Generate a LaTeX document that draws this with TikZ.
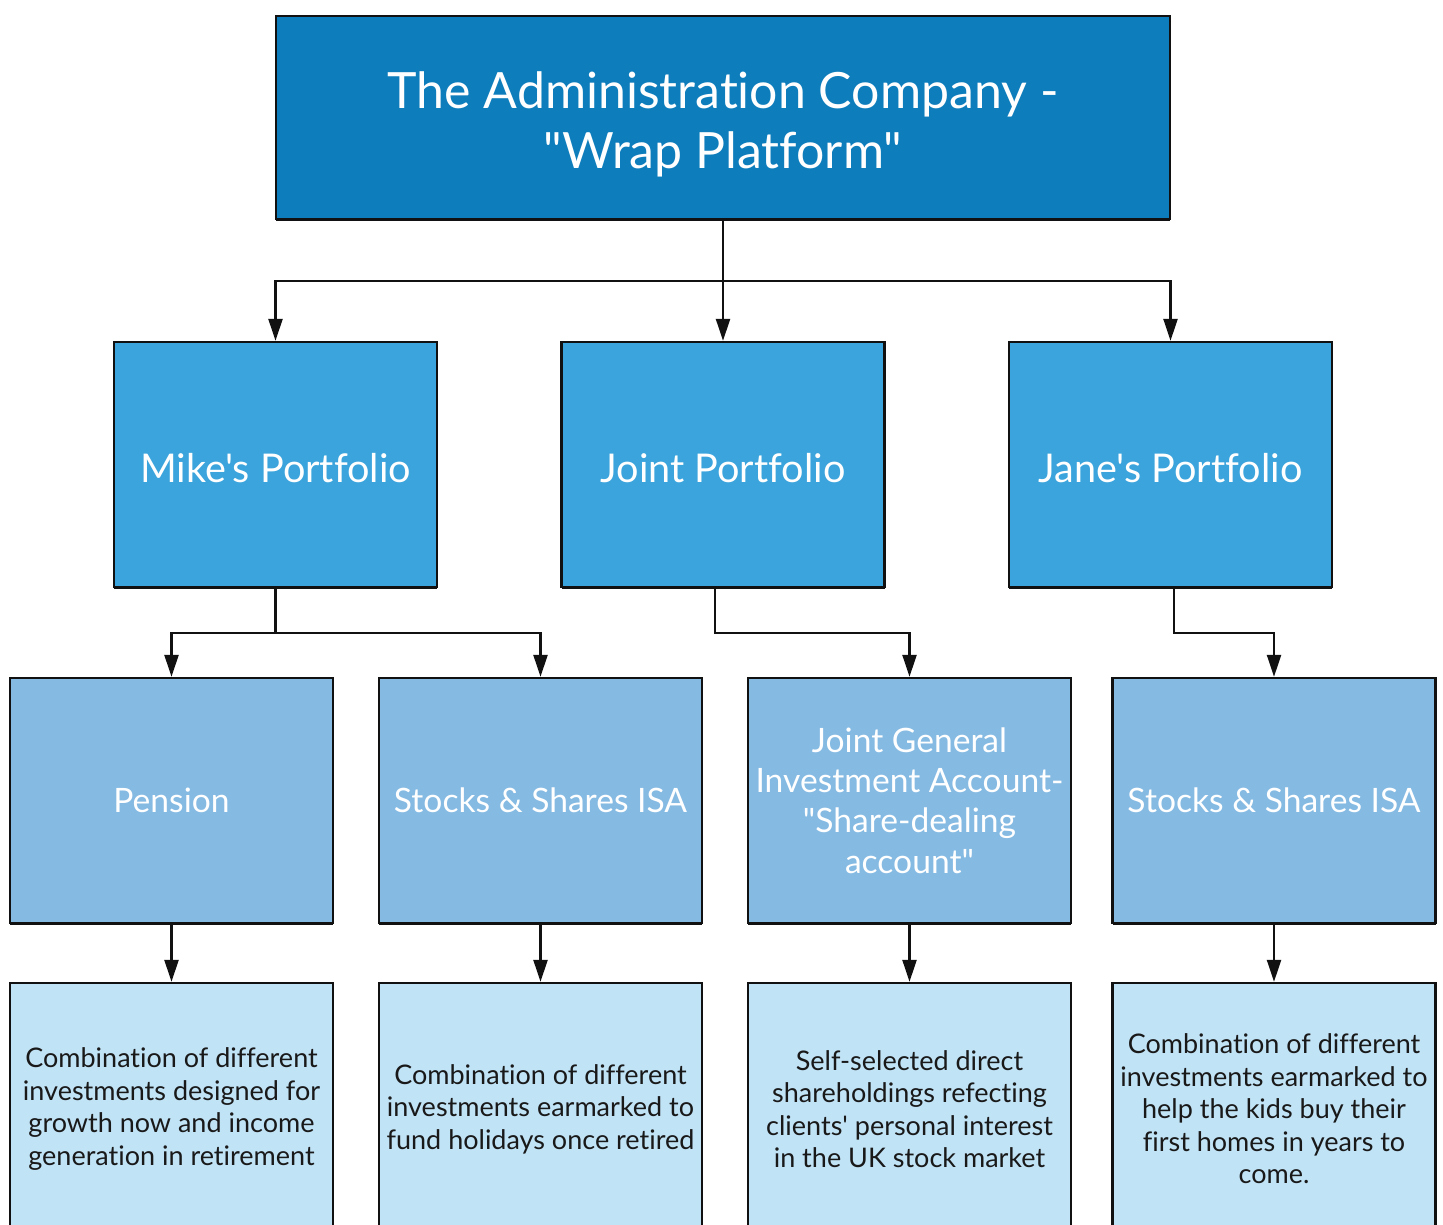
\documentclass[tikz,border=0pt]{standalone}
\usepackage{fontspec}
\setmainfont{Lato}[Ligatures={TeXOff,NoCommon}]
\usetikzlibrary{arrows.meta,shadows}
\definecolor{ctop}{HTML}{0E7DBC}
\definecolor{clvtwo}{HTML}{3BA4DC}
\definecolor{clvthree}{HTML}{85BAE3}
\definecolor{clvfour}{HTML}{C1E3F6}
\definecolor{cline}{HTML}{111111}
\newcommand{\lowtext}[1]{\raisebox{-1.75pt}[0.72em][0pt]{#1}}
\tikzset{
  boxbase/.style={draw=cline, line width=1.2pt, rectangle, align=center, inner sep=2pt,
     drop shadow={shadow xshift=0pt, shadow yshift=-1pt, fill=cline, opacity=1}},
  topbox/.style={boxbase, fill=ctop, minimum width=447pt, minimum height=101.5pt},
  toptext/.style={text=white, align=center, font=\fontsize{25}{30}\selectfont},
  lvtwo/.style={boxbase, fill=clvtwo, text=white, minimum width=161.5pt, minimum height=122.5pt,
     font=\fontsize{19.8}{24}\selectfont},
  lvthree/.style={boxbase, fill=clvthree, text=white, minimum width=161.5pt, minimum height=122.5pt,
     font=\fontsize{16.8}{20.2}\selectfont},
  lvfour/.style={boxbase, fill=clvfour, text=black!90, minimum width=161.5pt, minimum height=126pt,
     font=\fontsize{13.5}{16.25}\selectfont},
  conn/.style={draw=cline, line width=1.2pt},
  arr/.style={conn, -{Triangle[length=11pt,width=7pt]}},
}
\begin{document}
\begin{tikzpicture}[x=0.5pt, y=-0.5pt]
\useasboundingbox (0,0) rectangle (1443,1224);
\fill[white] (0,0) rectangle (1443,1224);
% level 1
\node[topbox] (top) at (723,117.5) {};
\node[toptext] (toptitle) at (723,124) {The Administration Company -\\\symbol{34}Wrap Platform\symbol{34}};
% level 2
\node[lvtwo] (mike) at (275.5,464.5) {\lowtext{Mike\symbol{39}s Portfolio}};
\node[lvtwo] (joint) at (723,464.5) {\lowtext{Joint Portfolio}};
\node[lvtwo] (jane) at (1170.5,464.5) {\lowtext{Jane\symbol{39}s Portfolio}};
% level 3
\node[lvthree] (pension) at (171.5,800.5) {Pension};
\node[lvthree] (isaone) at (540.5,800.5) {Stocks \& Shares ISA};
\node[lvthree] (gia) at (909.5,800.5) {Joint General\\Investment Account-\\\symbol{34}Share-dealing\\account\symbol{34}};
\node[lvthree] (isatwo) at (1274,800.5) {Stocks \& Shares ISA};
% level 4
\node[lvfour] (dpension) at (171.5,1109) {Combination of different\\investments designed for\\growth now and income\\generation in retirement};
\node[lvfour] (disaone) at (540.5,1109) {Combination of different\\investments earmarked to\\fund holidays once retired};
\node[lvfour] (dgia) at (909.5,1109) {Self-selected direct\\shareholdings refecting\\clients\symbol{39} personal interest\\in the UK stock market};
\node[lvfour] (disatwo) at (1274,1109) {Combination of different\\investments earmarked to\\help the kids buy their\\first homes in years to\\come.};
% connectors level 1 -> 2
\coordinate (bone) at (723,281);
\draw[arr] (top.south) -- (joint.north);
\draw[arr] (bone) -| (mike.north);
\draw[arr] (bone) -| (jane.north);
% Mike
\coordinate (mk) at (275.5,633);
\draw[conn] (mike.south) -- (mk);
\draw[arr] (mk) -| (pension.north);
\draw[arr] (mk) -| (isaone.north);
% Joint
\coordinate (js) at (715,587);
\coordinate (jk) at (715,633);
\draw[arr] (js) -- (jk) -| (gia.north);
% Jane
\coordinate (ns) at (1174,587);
\coordinate (nk) at (1174,633);
\draw[arr] (ns) -- (nk) -| (isatwo.north);
% level 3 -> 4
\draw[arr] (pension.south) -- (dpension.north);
\draw[arr] (isaone.south) -- (disaone.north);
\draw[arr] (gia.south) -- (dgia.north);
\draw[arr] (isatwo.south) -- (disatwo.north);
\end{tikzpicture}
\end{document}
